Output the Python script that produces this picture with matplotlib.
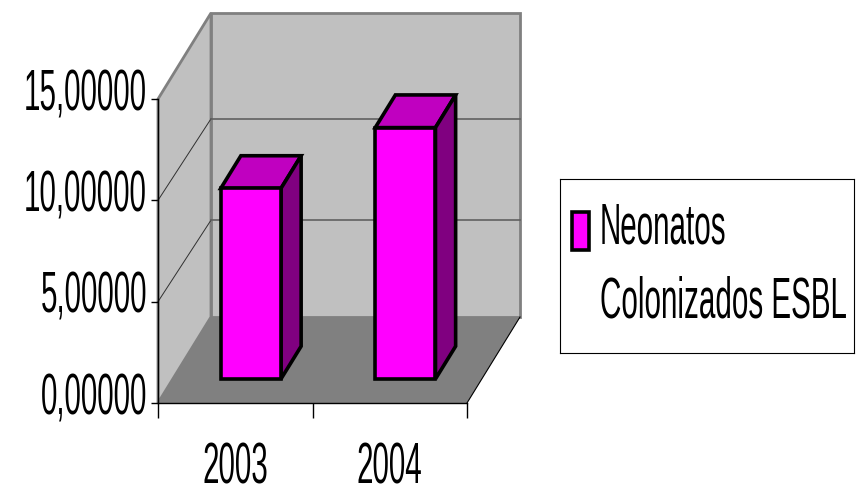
import matplotlib
matplotlib.use("Agg")
import matplotlib.pyplot as plt
from matplotlib import font_manager as fm
from matplotlib.patches import Polygon
from matplotlib.transforms import ScaledTranslation
from fontTools.ttLib import TTFont

W, H = 861, 490

categories = ["2003", "2004"]
values = [9.4, 12.4]
y_ticks = [0, 5, 10, 15]
y_labels = ["0,00000", "5,00000", "10,00000", "15,00000"]
legend_lines = ["Neonatos", "Colonizados ESBL"]


# pas de police etroite installee : on en fabrique une a partir de Liberation Sans
def make_narrow(sx, out="narrow.ttf"):
    font = TTFont(fm.findfont("Liberation Sans"))
    glyf, hmtx = font["glyf"], font["hmtx"]
    for name in font.getGlyphOrder():
        g = glyf[name]
        if g.isComposite():
            for c in g.components:
                c.x = round(c.x * sx)
        elif g.numberOfContours > 0:
            g.coordinates.scale((sx, 1))
            g.coordinates.toInt()
        g.recalcBounds(glyf)
        adv, lsb = hmtx[name]
        hmtx[name] = (round(adv * sx), round(lsb * sx))
    font.save(out)
    return out


narrow = fm.FontProperties(fname=make_narrow(0.52), size=41)

fig = plt.figure(figsize=(W / 100, H / 100), dpi=100)
ax = fig.add_axes([158 / W, 1 - 403 / H, 309 / W, 304 / H])
ax.set_xlim(0, len(categories))
ax.set_ylim(0, 15)
ax.patch.set_visible(False)
for s in ax.spines.values():
    s.set_visible(False)

# profondeur du faux 3D, en unites de donnees
dx = 53 / 154.5
dy = 86 / (304 / 15)
grid_drop = 0.22  # la grille du fond est un peu plus basse que le haut du mur


def proj(x, d, v):
    return (x + d * dx, v + d * dy)


def face(pts, color, lw=2.0, ec="#808080", z=1):
    ax.add_patch(Polygon([proj(*p) for p in pts], closed=True, fc=color, ec=ec, lw=lw,
                         joinstyle="miter", zorder=z, clip_on=False))


def line(pts, color, lw, z=2):
    xs, ys = zip(*[proj(*p) for p in pts])
    ax.plot(xs, ys, color=color, lw=lw, zorder=z, clip_on=False)


n = len(categories)
top = y_ticks[-1]
# murs et sol
face([(0, 0, 0), (0, 1, 0), (0, 1, top), (0, 0, top)], "#c0c0c0")
face([(0, 1, 0), (n, 1, 0), (n, 1, top), (0, 1, top)], "#c0c0c0")
face([(0, 0, 0), (n, 0, 0), (n, 1, 0), (0, 1, 0)], "#808080", lw=0, z=2)
line([(n, 0, 0), (n, 1, 0)], "black", 0.8, z=3)

# grille
for t in y_ticks[1:-1]:
    line([(0, 0, t), (0, 1, t - grid_drop)], "#303030", 0.7)
    line([(0, 1, t - grid_drop), (n, 1, t - grid_drop)], "#606060", 1.2)

# bars
for i, v in enumerate(values):
    x0, x1 = i + 0.31, i + 0.70
    d0, d1 = 0.28, 0.66
    face([(x0, d0, 0), (x1, d0, 0), (x1, d0, v), (x0, d0, v)], "#ff00ff", lw=2.6, ec="black", z=5)
    face([(x0, d0, v), (x1, d0, v), (x1, d1, v), (x0, d1, v)], "#c000c0", lw=2.6, ec="black", z=4)
    face([(x1, d0, 0), (x1, d1, 0), (x1, d1, v), (x1, d0, v)], "#800080", lw=2.6, ec="black", z=4)

# axes
ax.plot([0, 0], [0, top], color="black", lw=1, zorder=6, clip_on=False)
ax.plot([0, n], [0, 0], color="black", lw=1, zorder=6, clip_on=False)
ax.set_xticks(range(n + 1))
ax.set_xticklabels([])
ax.set_xticks([i + 0.5 for i in range(n)], minor=True)
ax.set_xticklabels(categories, minor=True, fontproperties=narrow)
ax.tick_params(axis="x", which="minor", length=0, pad=28)
ax.tick_params(axis="x", which="major", length=11, width=1)
ax.set_yticks(y_ticks)
ax.set_yticklabels(y_labels, fontproperties=narrow)
ax.tick_params(axis="y", length=5, width=1, pad=3)
up = ScaledTranslation(0, 0.10, fig.dpi_scale_trans)
for lab in ax.get_yticklabels():
    lab.set_transform(lab.get_transform() + up)

# legende
leg = fig.add_axes([560 / W, 1 - 353 / H, 294 / W, 174 / H])
leg.set_xticks([])
leg.set_yticks([])
for s in leg.spines.values():
    s.set_linewidth(0.8)
    s.set_color("black")
leg.set_xlim(0, 294)
leg.set_ylim(174, 0)
leg.add_patch(plt.Rectangle((12, 33), 17, 38, fc="#ff00ff", ec="black", lw=2.6))
leg.text(40, 50, legend_lines[0], fontproperties=narrow, va="center", ha="left")
leg.text(40, 124, legend_lines[1], fontproperties=narrow, va="center", ha="left")

fig.savefig("out.png", dpi=100)
